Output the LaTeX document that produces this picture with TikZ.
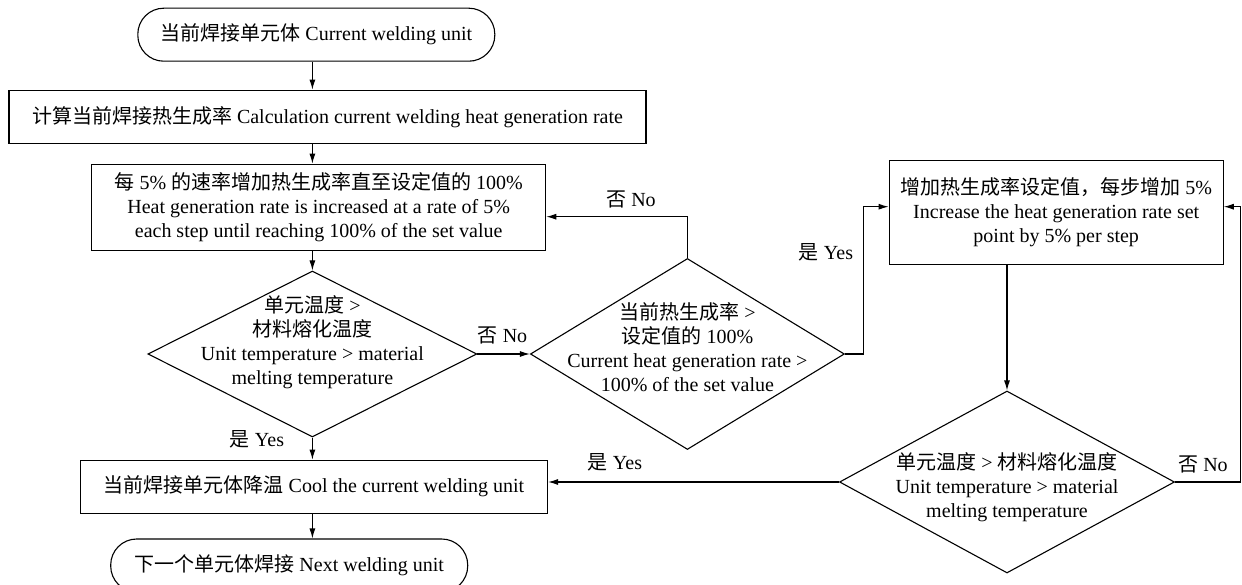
\documentclass[tikz,border=0pt]{standalone}
\usepackage{fontspec}
\setmainfont{Liberation Serif}
\newfontfamily\cjk{Noto Sans CJK SC}
\usepackage{tikz}
\usetikzlibrary{calc,shapes.geometric,arrows.meta}

\begin{document}
\begin{tikzpicture}[x=1pt, y=-1pt, line width=1.1pt,
    font=\fontsize{20}{24}\selectfont,
    >={Latex[length=10pt,width=6pt]},
    box/.style={rectangle, draw=black, align=center, inner sep=0pt},
    term/.style={rectangle, rounded corners=26pt, draw=black, inner sep=0pt, minimum height=53pt},
    decision/.style={diamond, draw=black, inner sep=0pt},
    lbl/.style={inner sep=0pt}]
    \useasboundingbox (0,0) rectangle (1242,585);

    \node[term, minimum width=357pt] (start) at (316.3,34.7) {{\cjk 当前焊接单元体} Current welding unit};

    \node[box, minimum width=637pt, minimum height=53pt] (calc) at (327.5,116.7) {{\cjk 计算当前焊接热生成率} Calculation current welding heat generation rate};

    \node[box, minimum width=454pt, minimum height=86pt] (heat) at (318.7,207.2) {{\cjk 每} 5\% {\cjk 的速率增加热生成率直至设定值的} 100\%\\Heat generation rate is increased at a rate of 5\%\\each step until reaching 100\% of the set value};

    \node[decision, minimum width=329pt, minimum height=166pt,
        label={[align=center, yshift=12pt]center:{{\cjk 单元温度} >\\{\cjk 材料熔化温度}\\Unit temperature > material\\melting temperature}}] (d1) at (312.4,354) {};

    \node[box, minimum width=467pt, minimum height=53pt] (cool) at (314,486.7) {{\cjk 当前焊接单元体降温} Cool the current welding unit};

    \node[term, minimum width=357pt] (stop) at (289.2,565.5) {{\cjk 下一个单元体焊接} Next welding unit};

    \node[decision, minimum width=314pt, minimum height=191pt,
        label={[align=center, yshift=7pt]center:{{\cjk 当前热生成率} >\\{\cjk 设定值的} 100\%\\Current heat generation rate >\\100\% of the set value}}] (d2) at (687.4,354) {};

    \node[box, minimum width=334pt, minimum height=104pt] (inc) at (1056.2,212.2) {{\cjk 增加热生成率设定值，每步增加} 5\%\\Increase the heat generation rate set\\point by 5\% per step};

    \node[decision, minimum width=335pt, minimum height=182pt,
        label={[align=center, yshift=-4.7pt]center:{{\cjk 单元温度} > {\cjk 材料熔化温度}\\Unit temperature > material\\melting temperature}}] (d3) at (1007,482) {};

    % branch labels
    \node[lbl] (yes1) at (257,439) {{\cjk 是} Yes};
    \node[lbl] (no1) at (502.5,335) {{\cjk 否} No};
    \node[lbl] (no2) at (631,199) {{\cjk 否} No};
    \node[lbl] (yes2) at (826,252) {{\cjk 是} Yes};
    \node[lbl] (no3) at (1203,464) {{\cjk 否} No};
    \node[lbl] (yes3) at (615,462) {{\cjk 是} Yes};

    \coordinate (c2) at (863.2,206.7);
    \coordinate (c3) at (1240.8,206.7);

    \draw[->] (start.south -| d1.north) -- (calc.north -| d1.north);
    \draw[->] (calc.south -| d1.north) -- (heat.north -| d1.north);
    \draw[->] (heat.south -| d1.north) -- (d1.north);
    \draw[->] (d1.south) -- (cool.north -| d1.south);
    \draw[->] (cool.south -| d1.south) -- (stop.north -| d1.south);

    \draw[->] (d1.east) -- (d2.west);
    \draw[->] (d2.north) |- ([yshift=-9.5pt]heat.east);
    \draw[->] (d2.east) -| (c2) -- (inc.west |- c2);

    \draw[->] (inc.south -| d3.north) -- (d3.north);
    \draw[->] (d3.east) -| (c3) -- (inc.east |- c3);
    \draw[->] (d3.west) -- (d3.west -| cool.east);

\end{tikzpicture}
\end{document}
